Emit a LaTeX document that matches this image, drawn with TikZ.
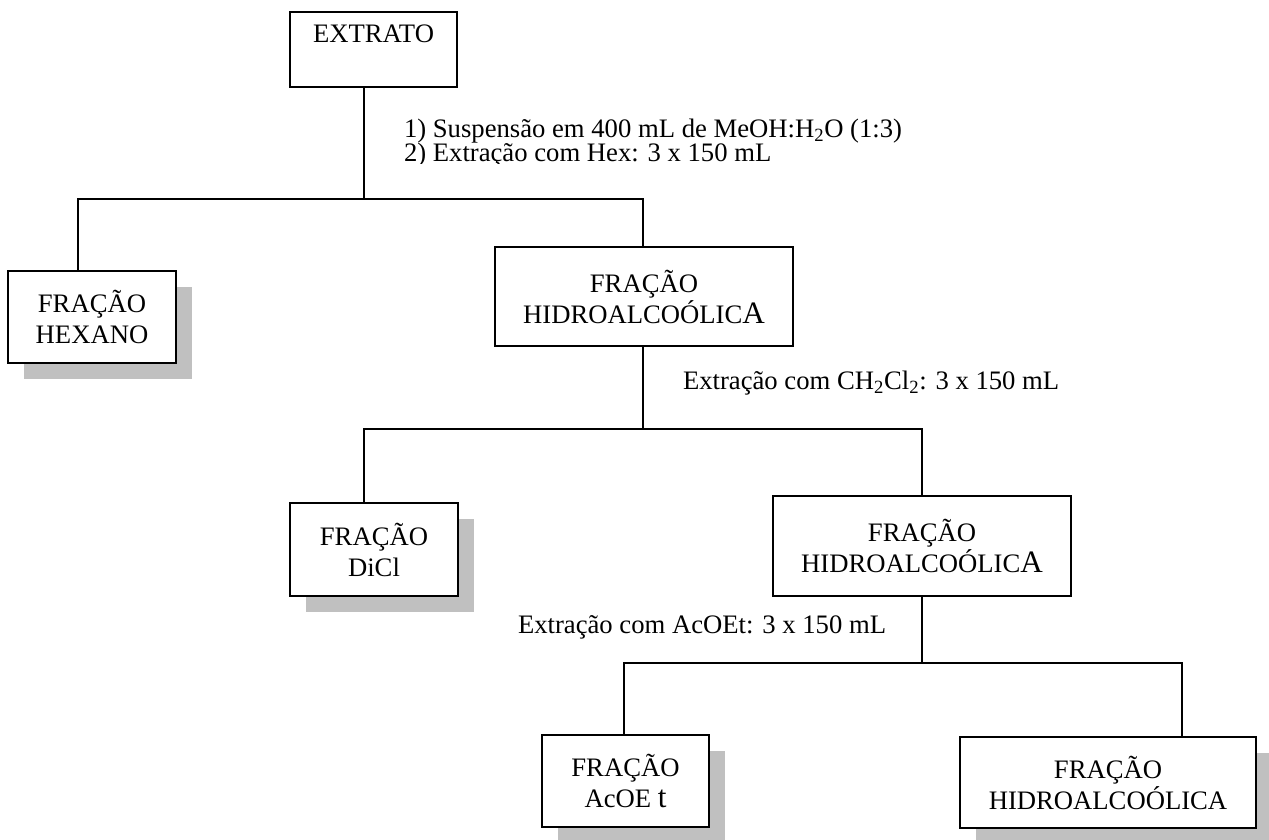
\documentclass[tikz,border=0pt]{standalone}
\usepackage{fontspec}
\setmainfont{Liberation Serif}
\usetikzlibrary{shadows}
\definecolor{shadowgray}{HTML}{C0C0C0}
\newcommand{\bigA}{{\fontsize{23.4}{23.25}\selectfont A}}
\newcommand{\bigt}{{\fontsize{23.4}{23.25}\selectfont t}}
\begin{document}
\begin{tikzpicture}[x=0.75pt,y=-0.75pt,
  line width=1.5pt,
  every node/.style={font=\fontsize{20}{23.25}\selectfont},
  box/.style={draw, line width=1.6pt, fill=white, inner sep=0pt, align=center},
  shadowed/.style={drop shadow={shadow xshift=12pt, shadow yshift=-12pt,
      fill=shadowgray, opacity=1}},
  lbl/.style={anchor=base west, inner sep=0pt}
]
\useasboundingbox (0,0) rectangle (1269,839);

% fraction boxes
\node[box, minimum width=125.25pt, minimum height=56.25pt] (ext) at (373.5,49.5) {EXTRATO\\ \mbox{}};
\node[box, shadowed, minimum width=126pt, minimum height=69pt] (hex) at (92,317) {FRAÇÃO\\HEXANO};
\node[box, minimum width=223.5pt, minimum height=74.25pt] (hid1) at (644,296.5) {FRAÇÃO\\HIDROALCOÓLIC\bigA};
\node[box, shadowed, minimum width=126pt, minimum height=69.75pt] (dicl) at (374,549.5) {FRAÇÃO\\DiCl};
\node[box, minimum width=223.5pt, minimum height=75pt] (hid2) at (922,546) {FRAÇÃO\\HIDROALCOÓLIC\bigA};
\node[box, shadowed, minimum width=125.25pt, minimum height=69pt] (acoet) at (625.5,781) {FRAÇÃO\\AcOE \bigt};
\node[box, shadowed, minimum width=222pt, minimum height=68.25pt] (hid3) at (1108,782.5) {FRAÇÃO\\HIDROALCOÓLICA};

% junction points of the branch lines
\coordinate (b1l) at (78,199);  \coordinate (b1m) at (364,199);  \coordinate (b1r) at (643,199);
\coordinate (b2l) at (364,429); \coordinate (b2m) at (643,429);  \coordinate (b2r) at (922,429);
\coordinate (b3l) at (624,663); \coordinate (b3m) at (922,663);  \coordinate (b3r) at (1182,663);

% branch lines
\draw (b1m |- ext.south) -- (b1m);
\draw (b1l |- hex.north) -- (b1l) -- (b1r) -- (b1r |- hid1.north);
\draw (b2m |- hid1.south) -- (b2m);
\draw (b2l |- dicl.north) -- (b2l) -- (b2r) -- (b2r |- hid2.north);
\draw (b3m |- hid2.south) -- (b3m);
\draw (b3l |- acoet.north) -- (b3l) -- (b3r) -- (b3r |- hid3.north);

% procedure labels
\node[lbl] (s1) at (403,137) {1) Suspensão em 400 mL de MeOH:H\textsubscript{2}O (1:3)};
\begin{scope}
  \clip (380,143) rectangle (920,163);
  \node[lbl] (s2) at (403,161) {2) Extração com Hex: 3 x 150 mL};
\end{scope}
\node[lbl] (s3) at (682,389) {Extração com CH\textsubscript{2}Cl\textsubscript{2}: 3 x 150 mL};
\node[lbl] (s4) at (517,633) {Extração com AcOEt: 3 x 150 mL};
\end{tikzpicture}
\end{document}
